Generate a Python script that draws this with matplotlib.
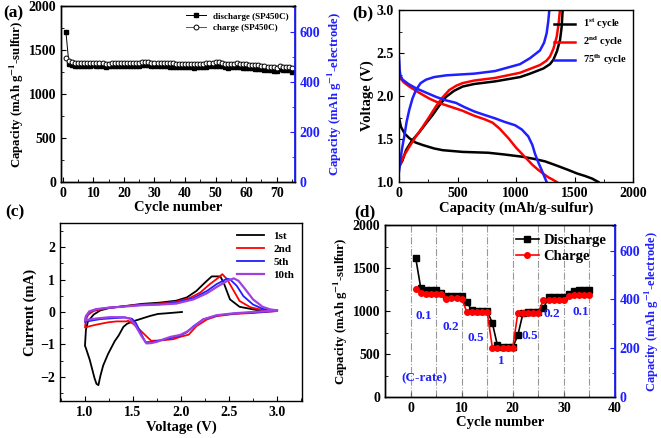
import numpy as np
import matplotlib
matplotlib.use('Agg')
import matplotlib.pyplot as plt
from matplotlib.ticker import MultipleLocator

plt.rcParams['font.family'] = ['Liberation Serif', 'DejaVu Serif']
plt.rcParams['font.weight'] = 'bold'
plt.rcParams['axes.labelweight'] = 'bold'
plt.rcParams['mathtext.fontset'] = 'stix'
plt.rcParams['xtick.direction'] = 'in'
plt.rcParams['ytick.direction'] = 'in'
plt.rcParams['axes.linewidth'] = 1.0

BLUE = '#1f1fff'

# ---- (a) cycling at constant rate ----
cycles_a = list(range(1, 76))
discharge_a = [1710, 1340, 1330, 1320, 1315, 1318, 1320, 1322, 1320, 1325,
               1322, 1318, 1315, 1310, 1315, 1318, 1320, 1322, 1320, 1322,
               1322, 1320, 1322, 1320, 1322, 1325, 1325, 1325, 1322, 1320,
               1320, 1318, 1315, 1315, 1312, 1312, 1310, 1308, 1305, 1305,
               1305, 1303, 1300, 1305, 1308, 1305, 1310, 1318, 1320, 1322,
               1320, 1315, 1310, 1300, 1305, 1310, 1312, 1308, 1300, 1295,
               1290, 1292, 1288, 1285, 1280, 1275, 1272, 1270, 1265, 1258,
               1280, 1278, 1275, 1272, 1252]
charge_a = [1410, 1370, 1360, 1352, 1350, 1350, 1352, 1352, 1352, 1355,
            1352, 1350, 1348, 1345, 1345, 1348, 1352, 1352, 1352, 1355,
            1355, 1355, 1355, 1355, 1355, 1358, 1358, 1358, 1356, 1355,
            1355, 1352, 1350, 1350, 1348, 1348, 1346, 1345, 1344, 1343,
            1343, 1342, 1340, 1342, 1345, 1342, 1348, 1352, 1355, 1360,
            1358, 1352, 1345, 1340, 1342, 1345, 1348, 1345, 1340, 1338,
            1335, 1333, 1330, 1325, 1320, 1315, 1312, 1310, 1305, 1298,
            1315, 1312, 1308, 1305, 1290]

# ---- (b) voltage profiles ----
cap_b1_dis = [0, 17, 50, 88, 140, 202, 300, 373, 544, 764, 900, 1048, 1150,
              1248, 1350, 1447, 1520, 1590, 1650, 1704]
v_b1_dis = [1.75, 1.64, 1.56, 1.51, 1.46, 1.43, 1.39, 1.37, 1.35, 1.34, 1.32,
            1.295, 1.27, 1.24, 1.19, 1.14, 1.10, 1.07, 1.04, 1.0]
cap_b1_chg = [10, 30, 60, 110, 174, 230, 288, 345, 402, 470, 544, 644, 821,
              1034, 1120, 1234, 1290, 1319, 1350, 1376, 1390, 1399]
v_b1_chg = [1.20, 1.25, 1.37, 1.48, 1.58, 1.68, 1.78, 1.89, 1.99, 2.06, 2.11,
            2.14, 2.17, 2.22, 2.26, 2.32, 2.37, 2.42, 2.52, 2.65, 2.80, 3.0]
cap_b2_dis = [0, 3, 40, 88, 170, 259, 340, 430, 540, 644, 730, 800, 860, 935,
              1000, 1077, 1140, 1191, 1240, 1276, 1310, 1348]
v_b2_dis = [2.23, 2.22, 2.16, 2.11, 2.04, 1.97, 1.92, 1.88, 1.83, 1.77, 1.73,
            1.69, 1.62, 1.51, 1.40, 1.29, 1.20, 1.14, 1.09, 1.055, 1.03, 1.0]
cap_b2_chg = [0, 3, 40, 88, 140, 202, 260, 316, 370, 430, 490, 544, 644, 821,
              1034, 1091, 1205, 1260, 1291, 1320, 1348, 1365, 1376]
v_b2_chg = [1.17, 1.18, 1.30, 1.41, 1.52, 1.64, 1.76, 1.88, 1.98, 2.07, 2.12,
            2.15, 2.18, 2.21, 2.27, 2.30, 2.36, 2.41, 2.46, 2.55, 2.69, 2.85, 3.0]
cap_b75_dis = [0, 3, 6, 12, 31, 80, 145, 230, 316, 400, 487, 560, 644, 730,
               821, 900, 992, 1050, 1105, 1140, 1162, 1190, 1219, 1240, 1262]
v_b75_dis = [2.45, 2.38, 2.30, 2.24, 2.19, 2.14, 2.09, 2.04, 1.99, 1.95, 1.92,
             1.87, 1.82, 1.78, 1.74, 1.70, 1.66, 1.61, 1.53, 1.43, 1.33, 1.23,
             1.14, 1.07, 1.0]
cap_b75_chg = [0, 3, 15, 25, 45, 65, 88, 115, 145, 185, 231, 300, 402, 520,
               644, 821, 1034, 1120, 1205, 1240, 1262, 1275, 1285]
v_b75_chg = [1.12, 1.15, 1.28, 1.38, 1.53, 1.70, 1.84, 1.97, 2.07, 2.15, 2.19,
             2.22, 2.24, 2.25, 2.26, 2.29, 2.37, 2.44, 2.53, 2.62, 2.73, 2.86, 3.0]

# ---- (c) cyclic voltammetry ----
v_c1 = [2.01, 1.85, 1.76, 1.68, 1.52, 1.44, 1.40, 1.35, 1.31, 1.24, 1.19, 1.16, 1.14,
        1.12, 1.10, 1.05, 1.01, 1.0, 1.01, 1.03, 1.09, 1.16, 1.25, 1.33, 1.59, 1.78,
        1.95, 2.06, 2.16, 2.25, 2.32, 2.41, 2.45, 2.51, 2.61, 2.79, 3.0]
i_c1 = [0.0, -0.04, -0.06, -0.12, -0.27, -0.36, -0.46, -0.73, -0.90, -1.30, -1.65, -1.98, -2.26,
        -2.22, -2.05, -1.48, -1.12, -1.04, -0.55, -0.30, -0.08, 0.05, 0.12, 0.15, 0.25, 0.29,
        0.35, 0.45, 0.65, 0.91, 1.10, 1.10, 0.86, 0.39, 0.16, 0.06, 0.03]
v_c2 = [3.0, 2.75, 2.55, 2.37, 2.27, 2.16, 2.08, 1.99, 1.92, 1.78, 1.69, 1.64,
        1.57, 1.50, 1.45, 1.43, 1.33, 1.24, 1.12, 1.02, 1.0, 1.01, 1.035, 1.09,
        1.24, 1.59, 1.78, 1.95, 2.09, 2.20, 2.30, 2.39, 2.43, 2.48, 2.55, 2.61,
        2.72, 2.85, 3.0]
i_c2 = [0.03, -0.03, -0.06, -0.13, -0.23, -0.44, -0.70, -0.77, -0.84, -0.88, -0.89, -0.75,
        -0.55, -0.36, -0.27, -0.29, -0.29, -0.32, -0.39, -0.46, -0.48, -0.23, -0.08, 0.03,
        0.13, 0.23, 0.26, 0.32, 0.43, 0.60, 0.86, 1.06, 1.17, 1.01, 0.65, 0.34,
        0.15, 0.06, 0.03]
v_c5 = [3.0, 2.55, 2.37, 2.23, 2.13, 2.06, 1.99, 1.89, 1.78, 1.69, 1.63, 1.59,
        1.53, 1.49, 1.42, 1.30, 1.16, 1.02, 1.0, 1.01, 1.045, 1.10, 1.24, 1.59,
        1.78, 1.95, 2.13, 2.27, 2.37, 2.48, 2.51, 2.58, 2.65, 2.75, 2.85, 3.0]
i_c5 = [0.03, -0.05, -0.11, -0.23, -0.44, -0.63, -0.73, -0.81, -0.88, -0.93, -0.93, -0.70,
        -0.34, -0.21, -0.17, -0.19, -0.22, -0.29, -0.31, -0.13, 0.0, 0.07, 0.13, 0.22,
        0.24, 0.29, 0.43, 0.65, 0.86, 1.03, 1.01, 0.81, 0.49, 0.23, 0.10, 0.03]
v_c10 = [3.0, 2.55, 2.37, 2.23, 2.15, 2.06, 1.99, 1.89, 1.82, 1.75, 1.69, 1.64,
         1.59, 1.52, 1.47, 1.40, 1.26, 1.12, 1.01, 1.0, 1.01, 1.045, 1.12, 1.24,
         1.59, 1.78, 1.95, 2.13, 2.27, 2.37, 2.48, 2.55, 2.60, 2.67, 2.75, 2.85,
         2.93, 3.0]
i_c10 = [0.05, -0.04, -0.10, -0.23, -0.42, -0.61, -0.71, -0.77, -0.84, -0.92, -0.96, -0.97,
         -0.75, -0.39, -0.21, -0.16, -0.16, -0.20, -0.25, -0.27, -0.13, 0.02, 0.09, 0.13,
         0.21, 0.23, 0.26, 0.39, 0.58, 0.77, 0.96, 1.04, 0.96, 0.70, 0.39, 0.16,
         0.08, 0.05]

# ---- (d) rate capability ----
cycles_d = list(range(1, 36))
discharge_d = [1620, 1265, 1250, 1250, 1250, 1210, 1175, 1170, 1170, 1170,
               1100, 1010, 1000, 1000, 1000, 860, 600, 580, 580, 580,
               720, 975, 985, 985, 985, 1030, 1160, 1160, 1160, 1160,
               1195, 1235, 1240, 1240, 1240]
charge_d = [1260, 1210, 1200, 1195, 1200, 1200, 1140, 1150, 1150, 1145,
            990, 990, 990, 990, 985, 575, 570, 570, 570, 575,
            980, 980, 980, 980, 980, 1130, 1130, 1130, 1130, 1130,
            1180, 1190, 1190, 1190, 1190]
rate_pos = [2.5, 7.8, 12.7, 17.8, 23.3, 27.6, 33.3]
rate_y = [940, 815, 690, 420, 710, 965, 990]
rate_labels = ['0.1', '0.2', '0.5', '1', '0.5', '0.2', '0.1']
dividers = [0, 5, 10, 15, 20, 25, 30, 35]

W, H = 661, 438


def box(left, top, right, bottom):
    # pixel box -> figure fraction
    return [left / W, 1 - bottom / H, (right - left) / W, (bottom - top) / H]


def right_axis(ax, top, size=9.5, pad=4):
    ax2 = ax.twinx()
    ax2.set_ylim(0, top)
    ax2.yaxis.set_major_locator(MultipleLocator(200))
    ax2.yaxis.set_minor_locator(MultipleLocator(100))
    ax2.tick_params(axis='y', which='both', colors=BLUE, labelsize=10)
    ax2.spines['right'].set_color(BLUE)
    ax2.spines['right'].set_linewidth(1.3)
    ax2.set_ylabel(r'Capacity (mAh g$^{\mathbf{-1}}$-electrode)', color=BLUE,
                   fontsize=size, labelpad=pad)
    return ax2


fig = plt.figure(figsize=(6.61, 4.38), dpi=100)

# (a)
ax = fig.add_axes(box(61, 6, 295, 182))
ax.plot(cycles_a, discharge_a, '-s', color='black', lw=0.7, ms=3.5,
        label='discharge (SP450C)')
ax.plot(cycles_a, charge_a, '-o', color='#555555', lw=0.7, ms=3.5,
        mfc='white', mec='black', mew=0.7, label='charge (SP450C)')
ax.set_xlim(-0.6, 76)
ax.set_ylim(0, 2000)
ax.xaxis.set_major_locator(MultipleLocator(10))
ax.xaxis.set_minor_locator(MultipleLocator(5))
ax.yaxis.set_major_locator(MultipleLocator(500))
ax.yaxis.set_minor_locator(MultipleLocator(250))
ax.tick_params(labelsize=10)
ax.set_xlabel('Cycle number', fontsize=10.5, labelpad=1)
ax.set_ylabel(r'Capacity (mAh g$^{\mathbf{-1}}$-sulfur)', fontsize=9.2, labelpad=2)
ax.legend(loc='upper right', fontsize=6.5, frameon=False, handlelength=2.2,
          borderaxespad=0.3, labelspacing=0.3)
right_axis(ax, 704, size=9.2)

# (b)
ax = fig.add_axes(box(399, 10, 633, 182))
ax.plot(cap_b1_dis, v_b1_dis, color='black', lw=1.8)
ax.plot(cap_b1_chg, v_b1_chg, color='black', lw=1.8, label=r'1$^{\mathbf{st}}$ cycle')
ax.plot(cap_b2_dis, v_b2_dis, color='red', lw=1.8)
ax.plot(cap_b2_chg, v_b2_chg, color='red', lw=1.8, label=r'2$^{\mathbf{nd}}$ cycle')
ax.plot(cap_b75_dis, v_b75_dis, color=BLUE, lw=1.8)
ax.plot(cap_b75_chg, v_b75_chg, color=BLUE, lw=1.8, label=r'75$^{\mathbf{th}}$ cycle')
ax.set_xlim(0, 2000)
ax.set_ylim(1.0, 3.0)
ax.xaxis.set_major_locator(MultipleLocator(500))
ax.xaxis.set_minor_locator(MultipleLocator(250))
ax.yaxis.set_major_locator(MultipleLocator(0.5))
ax.yaxis.set_minor_locator(MultipleLocator(0.25))
ax.tick_params(labelsize=10)
ax.set_xlabel('Capacity (mAh/g-sulfur)', fontsize=10.5, labelpad=1)
ax.set_ylabel('Voltage (V)', fontsize=10.5, labelpad=2)
ax.legend(loc='upper right', fontsize=7.5, frameon=False, handlelength=2.0,
          borderaxespad=0.2, labelspacing=0.3)

# (c)
ax = fig.add_axes(box(60, 223, 302, 401))
ax.plot(v_c1, i_c1, color='black', lw=1.3, label='1st')
ax.plot(v_c2, i_c2, color='red', lw=1.3, label='2nd')
ax.plot(v_c5, i_c5, color=BLUE, lw=1.3, label='5th')
ax.plot(v_c10, i_c10, color='#a040e0', lw=1.6, label='10th')
ax.set_xlim(0.74, 3.26)
ax.set_ylim(-2.75, 2.75)
ax.xaxis.set_major_locator(MultipleLocator(0.5))
ax.xaxis.set_minor_locator(MultipleLocator(0.25))
ax.yaxis.set_major_locator(MultipleLocator(1))
ax.yaxis.set_minor_locator(MultipleLocator(0.5))
ax.tick_params(labelsize=10)
ax.set_xlabel('Voltage (V)', fontsize=10.5, labelpad=1)
ax.set_ylabel('Current (mA)', fontsize=10.5, labelpad=2)
ax.legend(loc='upper right', fontsize=8, frameon=False, handlelength=2.5,
          borderaxespad=0.3, labelspacing=0.3)

# (d)
ax = fig.add_axes(box(385, 225, 615, 397))
for xv in dividers:
    ax.axvline(xv, color='gray', lw=0.8, ls='-.', alpha=0.8)
ax.plot(cycles_d, discharge_d, '-s', color='black', lw=1.2, ms=4, label='Discharge')
ax.plot(cycles_d, charge_d, '-o', color='red', lw=1.2, ms=4, label='Charge')
for xv, yv, t in zip(rate_pos, rate_y, rate_labels):
    ax.text(xv, yv, t, color=BLUE, fontsize=9.5, ha='center', va='center')
ax.text(2.7, 220, '(C-rate)', color=BLUE, fontsize=9.5, ha='center', va='center')
ax.set_xlim(-5, 40)
ax.set_ylim(0, 2000)
ax.xaxis.set_major_locator(MultipleLocator(10))
ax.xaxis.set_minor_locator(MultipleLocator(5))
ax.yaxis.set_major_locator(MultipleLocator(500))
ax.yaxis.set_minor_locator(MultipleLocator(250))
ax.tick_params(labelsize=10)
ax.set_xlabel('Cycle number', fontsize=10.5, labelpad=1)
ax.set_ylabel(r'Capacity (mAh g$^{\mathbf{-1}}$-sulfur)', fontsize=9.2, labelpad=2)
ax.legend(loc='upper right', fontsize=10.5, frameon=False, handlelength=1.6,
          borderaxespad=0.2, labelspacing=0.2, handletextpad=0.3)
right_axis(ax, 705, size=9.0, pad=2)

for lab, px, py in [('(a)', 13, 13), ('(b)', 363, 13), ('(c)', 15, 212), ('(d)', 365, 212)]:
    fig.text(px / W, 1 - py / H, lab, fontsize=12.5, fontweight='bold',
             ha='center', va='center')

fig.savefig('out.png', dpi=100)
